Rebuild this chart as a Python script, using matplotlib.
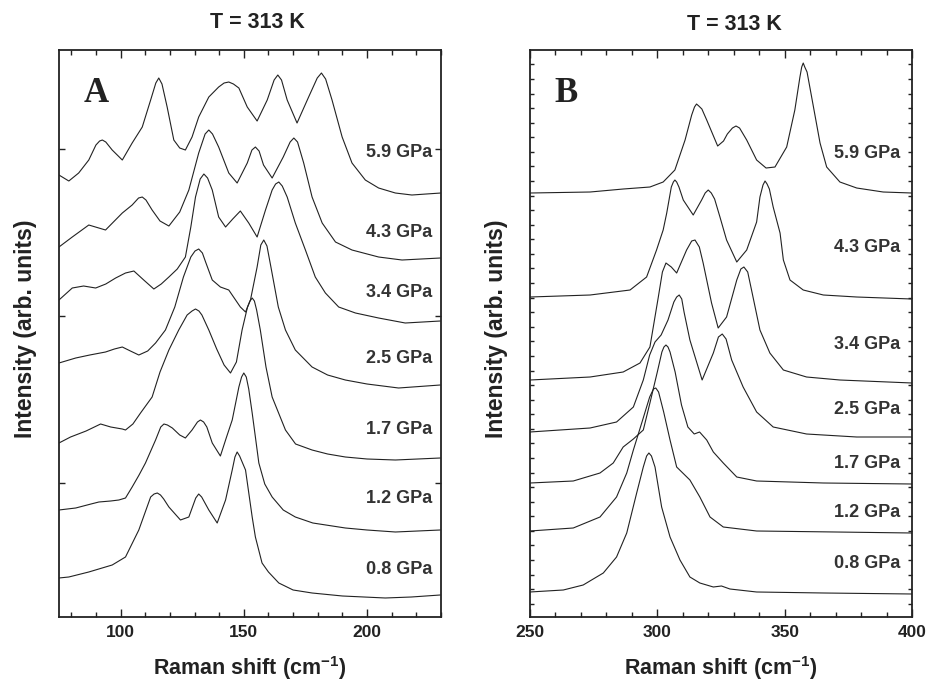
import numpy as np
import matplotlib
matplotlib.use("Agg")
import matplotlib.pyplot as plt
from matplotlib.ticker import MultipleLocator, FixedLocator

plt.rcParams['font.family'] = ['Liberation Sans', 'DejaVu Sans']
plt.rcParams['font.weight'] = 'bold'
plt.rcParams['mathtext.fontset'] = 'custom'
plt.rcParams['mathtext.rm'] = 'Liberation Sans:bold'
plt.rcParams['mathtext.bf'] = 'Liberation Sans:bold'

pressures = ['5.9 GPa', '4.3 GPa', '3.4 GPa', '2.5 GPa', '1.7 GPa', '1.2 GPa', '0.8 GPa']

# ---- panel A, low frequency region (offset spectra, arb. units) ----
a59_x = [75, 79, 83, 87.1, 90, 91.5, 92.6, 94, 96.6, 100.7, 104.7, 108.8, 112.2, 114.3, 115.5, 116.8,
         118.9, 121.6, 124, 126.3, 129, 131.7, 135.8, 139.8, 142, 143.9, 145.8, 148, 151.4, 155.4, 159.5,
         162.3, 163.8, 165.3, 167.6, 171.6, 176.3, 179.8, 181.5, 183.2, 185.8, 189.9, 193.9, 199.3, 204.7,
         211.5, 218.2, 224, 230]
a59_y = [442, 436, 444, 457, 472, 476, 477, 475, 467, 457, 474, 490, 517, 534, 539, 533,
         510, 477, 469, 467, 480, 500, 520, 530, 534, 535, 533, 529, 510, 496, 517,
         537, 542, 537, 517, 494, 520, 539, 544, 538, 517, 480, 454, 437, 429,
         424, 422, 423, 424]

a43_x = [75, 80.4, 87.1, 93.9, 100.7, 104.7, 107.3, 108.8, 110.3, 112.8, 116, 119.6, 124, 127.7, 131.7,
         134.3, 135.8, 137.3, 139.8, 143.9, 147.3, 151.4, 153.3, 154.7, 156.2, 158, 161.5, 166, 168.8,
         170.3, 171.8, 174.3, 177.7, 181.8, 187.2, 193.9, 204.7, 214.2, 229.7]
a43_y = [370, 380, 392, 387, 404, 412, 419, 420, 417, 407, 396, 391, 405, 427, 464,
         483, 487, 483, 470, 444, 434, 454, 467, 470, 466, 452, 439, 460, 475,
         479, 475, 454, 420, 394, 375, 367, 360, 357, 359]

a34_x = [75, 80.4, 85, 89.9, 94, 98, 102, 105.4, 109.4, 113.5, 116.5, 119.6, 123, 126.3, 128.5, 130.4,
         132.3, 133.8, 135.3, 137.2, 139.8, 142.6, 145.5, 148.6, 152, 155.4, 158.8, 161.5, 162.9, 164.2,
         165.6, 167.6, 170.9, 175, 179, 183.1, 188.5, 195.3, 204.7, 215.5, 229.7]
a34_y = [317, 329, 331, 329, 333, 339, 344, 346, 337, 328, 333, 340, 348, 360, 390, 420,
         438, 443, 439, 427, 400, 390, 398, 406, 394, 380, 407, 427, 433, 435,
         431, 420, 394, 367, 340, 324, 310, 304, 299, 294, 296]

a25_x = [75, 81.8, 87.5, 93.9, 97.5, 100.7, 104, 107.4, 111, 114.2, 118.2, 122, 125.5, 128.5, 130.2,
         131.7, 133.2, 134.5, 137.2, 140.5, 143.9, 148.6, 150.7, 152.7, 155.4, 156.9, 158.1, 159.4, 161,
         164, 166.9, 170.9, 177.7, 184, 191.2, 200, 212.8, 229.7]
a25_y = [254, 259, 262, 265, 268, 270, 266, 262, 266, 274, 287, 310, 340, 360, 366,
         368, 364, 355, 337, 330, 327, 310, 305, 317, 350, 372, 377, 371, 350,
         310, 287, 267, 250, 242, 237, 233, 229, 232]

a17_x = [75, 79.7, 86, 91.9, 96, 100.7, 102, 105, 108.1, 112.8, 116, 119.6, 123.6, 127, 129, 130.4,
         131.8, 133, 135.8, 139, 142, 144.6, 147, 149.3, 151.5, 152.5, 153.4, 154.3, 155.2, 156.7, 159,
         161.5, 166.9, 171, 177.7, 184, 191.2, 200, 211.5, 229.7]
a17_y = [174, 180, 186, 193, 190, 188, 187, 193, 204, 220, 245, 267, 287, 302, 306, 308,
         306, 302, 287, 268, 252, 244, 255, 287, 310, 316, 319, 316, 307, 287, 250,
         220, 187, 173, 167, 163, 160, 158, 157, 159]

a12_x = [75, 81.8, 88, 91.2, 96, 99.3, 102, 104.7, 107.5, 110.1, 114.2, 116.3, 117.6, 119, 121, 124,
         126.3, 129, 131.2, 132.4, 133.7, 135, 137.2, 140.5, 143, 145.3, 148, 149.1, 150, 151, 152, 153.4,
         154.7, 156.1, 158.5, 161.5, 166, 170.9, 178, 191.2, 200, 211.5, 229.7]
a12_y = [107, 109, 113, 115, 116, 117, 119, 130, 142, 154, 177, 190, 193, 192, 189, 182,
         179, 187, 195, 197, 195, 190, 174, 161, 180, 197, 230, 240, 244, 240, 228, 204,
         180, 154, 133, 120, 107, 100, 94, 89, 87, 85, 87]

a08_x = [75, 79, 87.1, 96.6, 102, 107.4, 112.2, 113.6, 114.9, 116.2, 117.5, 119.6, 124.3, 127.7, 130.5,
         131.7, 132.9, 135.8, 139.2, 142.6, 145.3, 146.4, 147.3, 148.3, 150.7, 153.4, 154.7, 157.4, 160,
         164.2, 170, 177.7, 190, 207.4, 218, 229.7]
a08_y = [39, 40, 45, 52, 60, 87, 120, 123, 124, 122, 118, 110, 97, 100, 119,
         123, 120, 107, 94, 117, 147, 160, 165, 161, 147, 100, 80, 54, 45,
         34, 27, 24, 21, 19, 20, 22]

# ---- panel B, high frequency region ----
b59_x = [250, 273.6, 286.6, 297.1, 302.3, 306.9, 310.9, 313.5, 314.6, 315.4, 316.3, 317.5, 319.4, 323.7,
         326, 327.5, 329.5, 330.9, 332.3, 335.1, 339, 342.7, 346.2, 350.8, 354, 356, 356.7, 357.3, 357.9,
         358.8, 360.6, 363.9, 366.5, 371.7, 378.3, 388.7, 400]
b59_y = [424, 425, 428, 430, 435, 447, 477, 502, 510, 513, 511, 508, 497, 471,
         476, 483, 489, 491, 489, 477, 457, 449, 450, 470, 507, 540, 550, 554, 550,
         545, 520, 474, 450, 435, 429, 425, 424]

b43_x = [250, 273.6, 289.3, 295.8, 299.7, 302.3, 303.7, 305.5, 306.3, 306.9, 307.6, 308.5, 310.2, 314.1,
         317.4, 318.8, 320, 321.2, 322.5, 324.6, 327.2, 331.2, 335.1, 339, 340.3, 341.5, 342.3, 343.1, 344,
         345.5, 348.2, 349.5, 352.1, 357.3, 365.2, 378.3, 400]
b43_y = [320, 322, 327, 340, 367, 387, 404, 430, 435, 437, 435, 430, 417, 402,
         417, 424, 427, 424, 418, 400, 377, 355, 367, 395, 420, 432, 436, 433, 428,
         410, 384, 357, 337, 327, 322, 320, 318]

b34_x = [250, 273.6, 286.6, 293.2, 297.1, 300.4, 302, 303.4, 305.5, 307.6, 311.5, 313.5, 314.8, 316.5,
         318, 321.3, 323.9, 327.2, 331.2, 332.8, 334, 335.5, 337, 340.3, 344.2, 349.5, 358.6, 371.7, 400]
b34_y = [237, 240, 245, 254, 270, 320, 345, 354, 350, 344, 367, 376, 377, 370,
         354, 314, 289, 300, 337, 348, 350, 345, 327, 287, 264, 247, 240, 237, 234]

b25_x = [250, 273.6, 284, 290.6, 294.5, 297, 299.1, 301.5, 304.2, 306.5, 307.6, 308.6, 309.6, 310.5,
         312.8, 317.6, 322, 324, 325.5, 327, 329.2, 333.7, 339, 345.5, 358.6, 378.3, 400]
b25_y = [185, 189, 195, 210, 237, 262, 275, 282, 297, 315, 320, 322, 318, 305,
         277, 237, 264, 280, 283, 278, 257, 230, 205, 190, 183, 180, 180]

b17_x = [250, 267, 277.5, 282.7, 286.6, 290.6, 294.5, 297.1, 300, 301.8, 302.6, 303.4, 304.2, 305, 307,
         309.5, 312, 314.5, 316.6, 319.4, 322, 325.9, 331.2, 339, 365.2, 400]
b17_y = [134, 136, 144, 154, 170, 178, 187, 214, 245, 265, 270, 272, 270, 265, 245,
         212, 190, 183, 185, 177, 165, 154, 140, 136, 134, 133]

b12_x = [250, 267, 277.5, 284, 288, 290.6, 294, 297, 298.5, 299.4, 300.5, 302.5, 305, 307.6, 312.8,
         316.7, 320.7, 325.9, 339, 370, 400]
b12_y = [86, 89, 100, 120, 144, 167, 195, 220, 228, 229, 225, 205, 177, 150, 137,
         120, 100, 90, 86, 85, 84]

b08_x = [250, 263.1, 270.9, 278.8, 284, 288, 291.9, 294.5, 295.8, 296.7, 297.7, 299.1, 301.7, 305, 308.9,
         312.8, 316.7, 322, 325.2, 328.5, 339, 365.2, 400]
b08_y = [25, 27, 32, 44, 60, 84, 124, 150, 161, 164, 161, 150, 110, 80, 57,
         40, 34, 30, 31, 28, 25, 24, 23]

panel_a = [(a59_x, a59_y), (a43_x, a43_y), (a34_x, a34_y), (a25_x, a25_y),
           (a17_x, a17_y), (a12_x, a12_y), (a08_x, a08_y)]
panel_b = [(b59_x, b59_y), (b43_x, b43_y), (b34_x, b34_y), (b25_x, b25_y),
           (b17_x, b17_y), (b12_x, b12_y), (b08_x, b08_y)]

fig = plt.figure(figsize=(9.27, 6.87), dpi=100)
axA = fig.add_axes([0.0636, 0.1019, 0.4121, 0.8253])
axB = fig.add_axes([0.5717, 0.1019, 0.4121, 0.8253])

# label heights (arb. units) next to each spectrum
lab_a = [465, 385, 325, 259, 188, 118, 47]
lab_b = [464, 370, 273, 208, 153, 104, 53]

for ax, spectra, labs, lab_x, xlim, letter in [
        (axA, panel_a, lab_a, 226.5, (75, 230), 'A'),
        (axB, panel_b, lab_b, 395.5, (250, 400), 'B')]:
    for (xs, ys), p, ly in zip(spectra, pressures, labs):
        ax.plot(xs, ys, color='#222222', lw=0.8)
        ax.text(lab_x, ly, p, ha='right', va='center', fontsize=13, fontweight='bold',
                color='#333333')
    ax.set_xlim(*xlim)
    ax.set_ylim(0, 567)
    ax.xaxis.set_major_locator(MultipleLocator(50))
    ax.xaxis.set_minor_locator(MultipleLocator(10))
    ax.tick_params(which='both', direction='in', top=True, right=True, width=1.0,
                   labelsize=12.5, pad=6, colors='#222222')
    ax.tick_params(which='major', length=6)
    ax.tick_params(which='minor', length=3.5)
    for s in ax.spines.values():
        s.set_linewidth(1.3)
        s.set_color('#222222')
    ax.set_xlabel(r'Raman shift (cm$^{\mathbf{-1}}$)', fontsize=15.5, fontweight='bold',
                  labelpad=10, color='#222222')
    ax.text(0.065, 0.908, letter, transform=ax.transAxes, fontsize=25, fontweight='bold',
            family='Liberation Serif', color='#222222', va='baseline')

axA.yaxis.set_major_locator(FixedLocator([134, 301, 468]))
axA.tick_params(axis='y', which='major', length=4, labelleft=False, labelright=False)
axA.yaxis.set_minor_locator(FixedLocator([]))

axB.yaxis.set_major_locator(FixedLocator(list(np.arange(13.2, 567, 14.58))))
axB.tick_params(axis='y', which='major', length=3, labelleft=False, labelright=False)

fig.text(0.278, 0.967, 'T = 313 K', ha='center', va='center', fontsize=15.5, fontweight='bold',
         color='#222222')
fig.text(0.792, 0.964, 'T = 313 K', ha='center', va='center', fontsize=15.5, fontweight='bold',
         color='#222222')
fig.text(0.027, 0.522, 'Intensity (arb. units)', rotation=90, ha='center', va='center',
         fontsize=16.5, fontweight='bold', color='#222222')
fig.text(0.536, 0.522, 'Intensity (arb. units)', rotation=90, ha='center', va='center',
         fontsize=16.5, fontweight='bold', color='#222222')

fig.savefig('out.png', dpi=100)
